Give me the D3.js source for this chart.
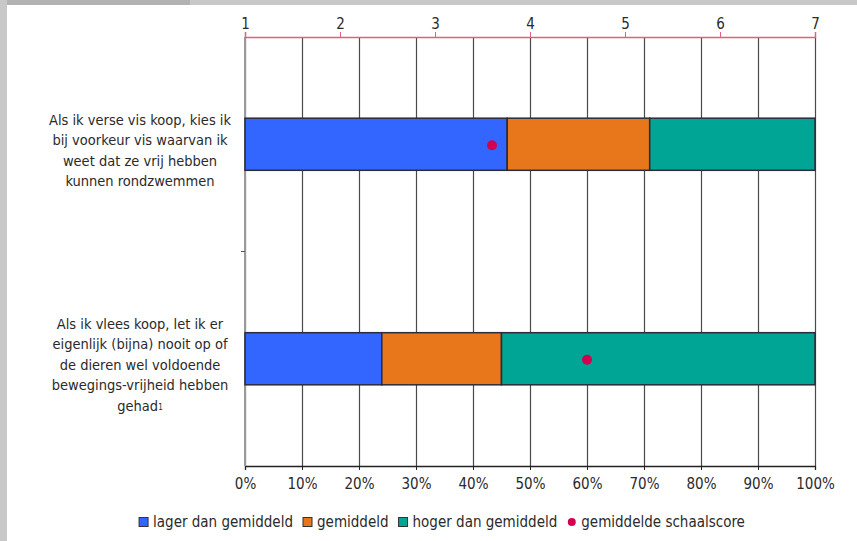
<!DOCTYPE html>
<html>
<head>
<meta charset="utf-8">
<script src="https://cdn.jsdelivr.net/npm/d3@7"></script>
<style>
  body { margin: 0; background: #fff; }
  svg text { font-family: "Liberation Sans Narrow", "DejaVu Sans Condensed", "Liberation Sans", sans-serif; fill: #2a2a2a; }
</style>
</head>
<body>
<script>
/* Stacked bar chart - schaalscore */

const categories = [
  ["Als ik verse vis koop, kies ik", "bij voorkeur vis waarvan ik", "weet dat ze vrij hebben", "kunnen rondzwemmen"],
  ["Als ik vlees koop, let ik er", "eigenlijk (bijna) nooit op of", "de dieren wel voldoende", "bewegings-vrijheid hebben", "gehad"]
];
const seriesNames = ["lager dan gemiddeld", "gemiddeld", "hoger dan gemiddeld"];
const lager = [46, 24];
const gemiddeld = [25, 21];
const hoger = [29, 55];
const schaalscore = [3.6, 4.6];
const dotName = "gemiddelde schaalscore";
const pctTicks = [0, 10, 20, 30, 40, 50, 60, 70, 80, 90, 100];
const scoreTicks = [1, 2, 3, 4, 5, 6, 7];

const colors = ["#3366ff", "#e8761a", "#00a596"];
const dotColor = "#d4004f";

/* Chart size */

const w = 857,
      h = 541,
      pLeft = 245,
      pRight = 815,
      pTop = 37,
      pBottom = 466;

const svg = d3.select("body").append("svg")
  .attr("width", w)
  .attr("height", h);

/* Frame */

svg.append("rect").attr("x", 0).attr("y", 0).attr("width", w).attr("height", 5).attr("fill", "#c8c8c8");
svg.append("rect").attr("x", 0).attr("y", 0).attr("width", 190).attr("height", 5).attr("fill", "#b2b2b2");
svg.append("rect").attr("x", 0).attr("y", 0).attr("width", 7).attr("height", h).attr("fill", "#c8c8c8");

/* Scales */

const ids = categories.map((d, i) => i);
const x = d3.scaleLinear().domain([0, 100]).range([pLeft, pRight]);
const xs = d3.scaleLinear().domain([1, 7]).range([pLeft, pRight]);
const y = d3.scaleBand().domain(ids).range([pTop, pBottom])
  .paddingInner(0.757).paddingOuter(0.3785);

/* Grid */

const grid = svg.append("g")
  .attr("transform", "translate(0," + pBottom + ")")
  .call(d3.axisBottom(x).tickValues(pctTicks).tickSize(-(pBottom - pTop)).tickFormat(""));
grid.select(".domain").remove();
grid.selectAll("line").attr("stroke", "#4a4a4a").attr("stroke-width", 1.2);

/* Bottom axis */

const xAxis = svg.append("g")
  .attr("transform", "translate(0," + pBottom + ")")
  .call(d3.axisBottom(x).tickValues(pctTicks).tickSize(4).tickPadding(8).tickFormat(d => d + "%"));
xAxis.select(".domain").attr("stroke", "#222").attr("stroke-width", 1.3);
xAxis.selectAll("line").attr("stroke", "#222");
xAxis.selectAll("text").style("font-size", "15px");

/* Left axis line */

svg.append("line")
  .attr("x1", pLeft).attr("x2", pLeft).attr("y1", pTop).attr("y2", pBottom)
  .attr("stroke", "#9a9a9a").attr("stroke-width", 2);
const mid = y(1) - y.step() * y.paddingInner() / 2;
svg.append("line")
  .attr("x1", pLeft - 4).attr("x2", pLeft).attr("y1", mid).attr("y2", mid)
  .attr("stroke", "#555").attr("stroke-width", 1);

/* Top axis (schaalscore) */

const topAxis = svg.append("g")
  .attr("transform", "translate(0," + pTop + ")")
  .call(d3.axisTop(xs).tickValues(scoreTicks).tickSize(5).tickPadding(3).tickFormat(d3.format("d")));
topAxis.select(".domain").attr("stroke", "#e0607e").attr("stroke-width", 1.5);
topAxis.selectAll("line").attr("stroke", "#e0607e");
topAxis.selectAll("text").style("font-size", "15px");

/* Bars */

const table = ids.map(i => ({ id: i, a: lager[i], b: gemiddeld[i], c: hoger[i] }));
const stacked = d3.stack().keys(["a", "b", "c"])(table);

svg.append("g").selectAll("g")
  .data(stacked)
  .enter().append("g")
  .attr("fill", (d, i) => colors[i])
  .selectAll("rect")
  .data(d => d)
  .enter().append("rect")
  .attr("x", d => x(d[0]))
  .attr("y", d => y(d.data.id))
  .attr("width", d => x(d[1]) - x(d[0]))
  .attr("height", y.bandwidth())
  .attr("stroke", "#2b2b3a")
  .attr("stroke-width", 1.5);

/* Dots */

svg.append("g").selectAll("circle")
  .data(schaalscore)
  .enter().append("circle")
  .attr("cx", d => xs(d))
  .attr("cy", (d, i) => y(i) + y.bandwidth() / 2 + 1)
  .attr("r", 5)
  .attr("fill", dotColor);

/* Category labels */

const lineH = 20.5;
categories.forEach((lines, i) => {
  const cy = y(i) + y.bandwidth() / 2 + 6;
  const t = svg.append("text")
    .attr("text-anchor", "middle")
    .style("font-size", "14.5px");
  lines.forEach((s, j) => {
    t.append("tspan")
      .attr("x", 140)
      .attr("y", cy + (j - (lines.length - 1) / 2) * lineH)
      .attr("dy", "0.35em")
      .text(s);
  });
  if (i === 1) {
    t.append("tspan").attr("dy", "-0.1em").style("font-size", "8px").text("1");
  }
});

/* Legend */

const legend = svg.append("g").attr("id", "legend");
const items = seriesNames.map((s, i) => ({ name: s, color: colors[i], dot: false }))
  .concat([{ name: dotName, color: dotColor, dot: true }]);
let lx = 0;
items.forEach(it => {
  const g = legend.append("g").attr("transform", "translate(" + lx + ",0)");
  if (it.dot) {
    g.append("circle").attr("cx", 4.5).attr("cy", 0).attr("r", 4).attr("fill", it.color);
  } else {
    g.append("rect").attr("x", 0).attr("y", -4.5).attr("width", 9).attr("height", 9)
      .attr("fill", it.color).attr("stroke", "#333").attr("stroke-width", 1);
  }
  const txt = g.append("text").attr("x", 14).attr("y", 0).attr("dy", "0.35em")
    .style("font-size", "15px").text(it.name);
  lx += 14 + txt.node().getComputedTextLength() + 10;
});
legend.attr("transform", "translate(" + (442 - (lx - 10) / 2) + ",522)");
</script>
</body>
</html>
